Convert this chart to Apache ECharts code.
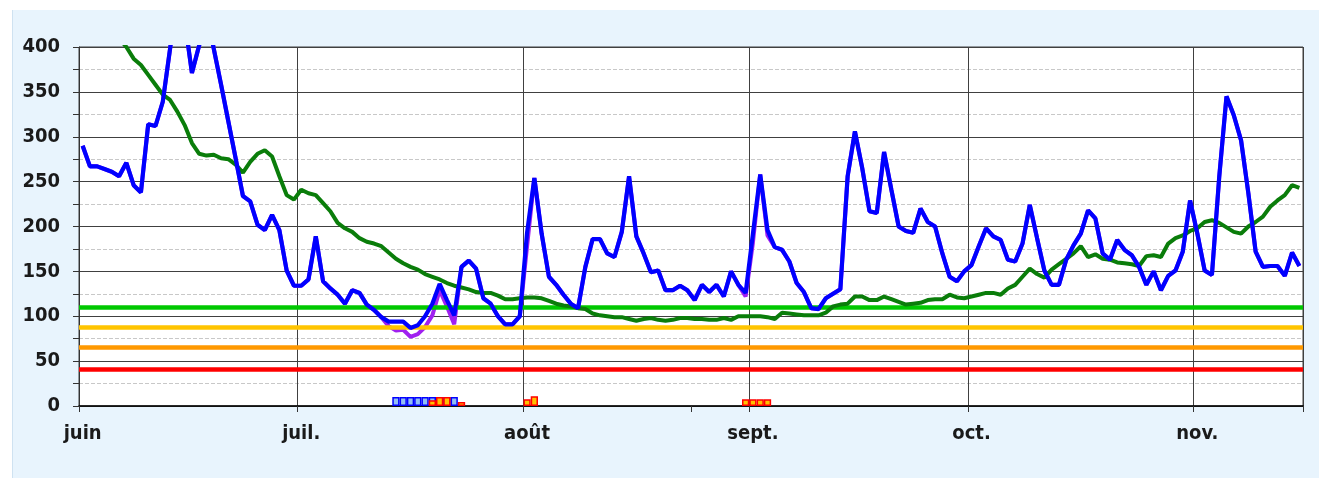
<!DOCTYPE html>
<html>
<head>
<meta charset="utf-8">
<script src="https://cdn.jsdelivr.net/npm/echarts@6/dist/echarts.min.js"></script>
<style>
  html, body { margin: 0; padding: 0; background: #fff; }
  #panel { position: absolute; left: 12px; top: 10px; width: 1306px; height: 468px;
           background: #e8f4fd; border-left: 1px solid #cfe2f1; }
  #chart { position: absolute; left: 0; top: 0; width: 1328px; height: 478px; }
</style>
</head>
<body>
<div id="panel"></div>
<div id="chart"></div>
<script>
// axis: one category per day, 1 June -> 15 Nov
var monthNames = ['juin', 'juil.', 'août', 'sept.', 'oct.', 'nov.'];
var monthDays = [30, 31, 31, 30, 31, 15];
var extraTicks = [84];

// daily values (blue), corrected values (purple), moving average (green)
var daily = [290, 267, 267, 264, 261, 256, 271, 246, 238, 314, 312, 339, 398, 460, 430, 371, 402, 440, 398, 358,
    317, 276, 234, 228, 202, 196, 213, 196, 151, 134, 134, 141, 189, 139, 131, 124, 114, 129, 126, 113,
    107, 99, 94, 94, 94, 87, 90, 100, 114, 136, 118, 101, 155, 162, 153, 120, 114, 100, 91, 91,
    100, 193, 254, 192, 144, 135, 124, 114, 109, 155, 186, 186, 170, 166, 194, 256, 189, 170, 149, 151,
    129, 129, 134, 129, 118, 135, 127, 135, 122, 150, 135, 126, 192, 258, 196, 177, 174, 161, 137, 127,
    109, 108, 120, 125, 130, 256, 306, 265, 217, 215, 283, 241, 200, 195, 193, 220, 205, 200, 170, 144,
    139, 150, 157, 178, 198, 189, 185, 163, 161, 181, 224, 187, 151, 135, 135, 163, 179, 192, 218, 209,
    170, 163, 185, 174, 168, 155, 135, 150, 129, 145, 151, 172, 229, 192, 151, 146, 255, 345, 324, 296,
    237, 172, 155, 156, 156, 145, 171, 156];
var corrected = [290, 267, 267, 264, 261, 256, 271, 246, 238, 314, 312, 339, 398, 460, 430, 371, 402, 440, 398, 358,
    317, 276, 234, 228, 202, 196, 213, 196, 151, 134, 134, 141, 189, 139, 131, 124, 114, 129, 126, 113,
    107, 99, 89, 84, 85, 77, 80, 88, 101, 129, 111, 91, 155, 162, 153, 120, 114, 100, 91, 91,
    100, 178, 254, 192, 144, 135, 124, 114, 109, 155, 186, 186, 170, 166, 194, 256, 189, 170, 149, 151,
    129, 129, 134, 129, 118, 135, 127, 135, 122, 150, 135, 122, 182, 258, 190, 177, 174, 161, 137, 127,
    109, 108, 120, 125, 130, 256, 306, 265, 217, 215, 283, 241, 200, 195, 193, 220, 205, 200, 170, 144,
    139, 150, 157, 178, 198, 189, 185, 163, 161, 181, 224, 187, 151, 135, 135, 163, 179, 192, 218, 209,
    170, 163, 185, 174, 168, 155, 135, 150, 129, 145, 151, 172, 229, 192, 151, 146, 255, 345, 324, 296,
    237, 172, 155, 156, 156, 145, 171, 156];
var average = [470, 458, 446, 433, 421, 410, 400, 387, 380, 369, 358, 347, 341, 328, 313, 293, 281, 279, 280, 276,
    275, 269, 260, 272, 281, 285, 278, 256, 235, 230, 241, 237, 235, 226, 217, 204, 198, 194, 187, 183,
    181, 178, 171, 164, 159, 155, 152, 147, 144, 141, 137, 134, 132, 130, 127, 126, 126, 123, 119, 119,
    120, 121, 121, 120, 117, 114, 112, 111, 109, 108, 103, 101, 100, 99, 99, 97, 95, 97, 98, 96,
    95, 96, 98, 98, 97, 97, 96, 96, 98, 96, 100, 100, 100, 100, 99, 97, 104, 103, 102, 101,
    101, 101, 104, 111, 113, 114, 122, 122, 118, 118, 122, 119, 116, 113, 114, 115, 118, 119, 119, 124,
    121, 120, 122, 124, 126, 126, 124, 131, 135, 144, 153, 147, 143, 152, 158, 164, 170, 178, 166, 169,
    164, 163, 160, 159, 158, 156, 167, 168, 166, 181, 187, 190, 195, 198, 205, 207, 204, 199, 194, 192,
    200, 205, 211, 222, 229, 235, 246, 243];

// threshold levels
var thresholds = [110, 88, 65, 41];
var thresholdColors = ['#00c800', '#ffc400', '#ff9900', '#ff0000'];

// event markers at the bottom: [day index, height]
var blueMarks = [[43, 10], [44, 10], [45, 10], [46, 10], [47, 10], [48, 10], [49, 10], [50, 10], [51, 10]];
var redMarks = [[48, 6.5], [49, 10], [50, 10], [52, 4.5], [61, 7.5], [62, 11], [91, 7.5], [92, 7.5], [93, 7.5], [94, 7.5]];

var days = [];
var monthStarts = [];
monthDays.forEach(function (n, m) {
    monthStarts.push(days.length);
    for (var d = 1; d <= n; d++) {
        days.push(d + ' ' + monthNames[m]);
    }
});

var chart = echarts.init(document.getElementById('chart'));
var font = 'DejaVu Sans Condensed';

var option = {
    animation: false,
    grid: {
        left: 79, right: 25, top: 47, bottom: 72,
        show: true, backgroundColor: '#ffffff', borderColor: '#404040', borderWidth: 1
    },
    xAxis: {
        type: 'category',
        data: days,
        boundaryGap: true,
        axisLine: { lineStyle: { color: '#000', width: 1.5 } },
        axisTick: {
            show: true, length: 6, lineStyle: { color: '#333' },
            interval: function (i) { return monthStarts.indexOf(i) >= 0 || extraTicks.indexOf(i) >= 0; }
        },
        axisLabel: {
            interval: function (i) { return monthStarts.indexOf(i) >= 0; },
            formatter: function (v, i) { return monthNames[monthStarts.indexOf(i)] || ''; },
            color: '#1a1a1a', fontFamily: font, fontWeight: 'bold', fontSize: 20, margin: 18
        },
        splitLine: {
            show: true,
            interval: function (i) { return monthStarts.indexOf(i) >= 0; },
            lineStyle: { color: '#404040', width: 1 }
        }
    },
    yAxis: {
        type: 'value',
        min: 0, max: 400, interval: 50,
        axisLine: { show: true, lineStyle: { color: '#333', width: 1 } },
        axisTick: { show: true, length: 6, lineStyle: { color: '#333' } },
        minorTick: { show: true, splitNumber: 2, length: 6, lineStyle: { color: '#333' } },
        axisLabel: { color: '#1a1a1a', fontFamily: font, fontWeight: 'bold', fontSize: 20, margin: 19 },
        splitLine: { lineStyle: { color: '#404040', width: 1 } },
        minorSplitLine: { show: true, lineStyle: { color: '#c8c8c8', type: 'dashed', width: 1 } }
    },
    series: [
        {
            name: 'seuils', type: 'line', data: [], z: 1, silent: true,
            markLine: {
                silent: true, symbol: ['none', 'none'], label: { show: false },
                data: thresholds.map(function (t, i) {
                    return { yAxis: t, lineStyle: { color: thresholdColors[i], width: 4.5, type: 'solid' } };
                })
            }
        },
        {
            name: 'blueMarks', type: 'bar', data: blueMarks, z: 2,
            barCategoryGap: '0%', barGap: '-100%',
            itemStyle: { color: '#92bdf3', borderColor: '#0000ff', borderWidth: 1.5 }
        },
        {
            name: 'redMarks', type: 'bar', data: redMarks, z: 3,
            barCategoryGap: '0%', barGap: '-100%',
            itemStyle: { color: '#ffc000', borderColor: '#ff0000', borderWidth: 1.5 }
        },
        {
            name: 'corrigé', type: 'line', data: corrected, z: 4, symbol: 'none',
            lineStyle: { color: '#a020f0', width: 4 }
        },
        {
            name: 'moyenne', type: 'line', data: average, z: 5, symbol: 'none',
            lineStyle: { color: '#0a7d0a', width: 4 }
        },
        {
            name: 'journalier', type: 'line', data: daily, z: 6, symbol: 'none',
            lineStyle: { color: '#0000ff', width: 4.2 }
        }
    ]
};

chart.setOption(option);
</script>
</body>
</html>
